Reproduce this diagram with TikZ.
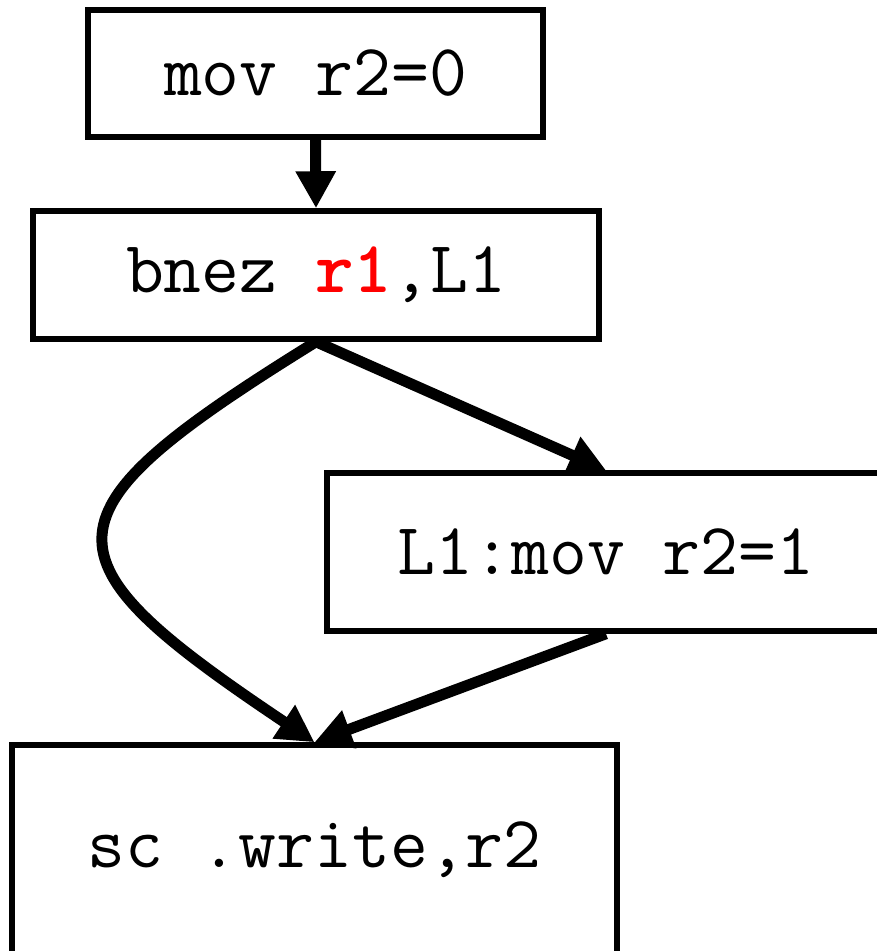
\documentclass[tikz,border=0pt]{standalone}
\usepackage{tikz}
\usetikzlibrary{arrows.meta}

\tikzset{
  blk/.style={draw, line width=5.5pt, inner sep=0pt,
    font=\ttfamily\fontsize{73.5}{88}\selectfont},
  flow/.style={line width=11pt, -{Triangle[length=37pt,width=38pt]}}
}

\begin{document}
\begin{tikzpicture}[x=1pt, y=1pt]
  \useasboundingbox (0,0) rectangle (876,-951);
  \node (mov) at (315.5,-73.5) [blk, minimum width=455pt, minimum height=127pt] {mov r2=0};
  \node (bnez) at (316,-275) [blk, minimum width=566pt, minimum height=128pt]
    {bnez \textbf{\color{red}r1},L1};
  \node (lone) at (606,-552) [blk, minimum width=558pt, minimum height=158pt] {L1:mov r2=1};
  \node (sc) at (314.5,-850) [blk, minimum width=605pt, minimum height=210pt] {sc .write,r2};
  \draw [flow] (mov.south) -- (bnez.north);
  \draw [flow] (bnez.south) -- (lone.north);
  \draw [flow] (bnez.south) .. controls +(-281,-174) and +(-278,186) .. (sc.north);
  \draw [flow] (lone.south) -- (sc.north);
\end{tikzpicture}
\end{document}
